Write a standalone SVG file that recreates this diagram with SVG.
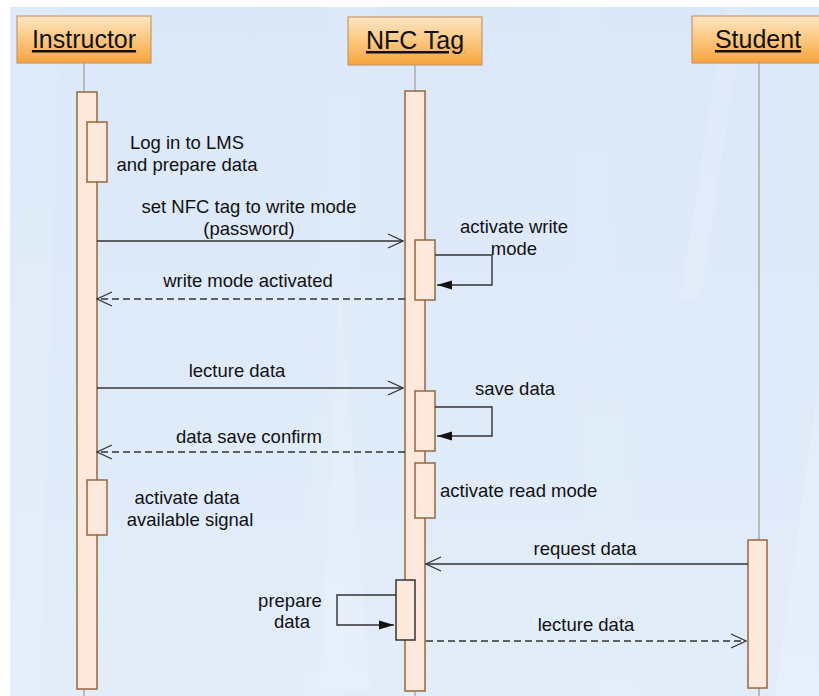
<svg xmlns="http://www.w3.org/2000/svg" width="819" height="696" viewBox="0 0 819 696">
  <defs>
    <linearGradient id="hdr" x1="0" y1="0" x2="0" y2="1">
      <stop offset="0" stop-color="#fde6c4"/>
      <stop offset="0.5" stop-color="#fbc77e"/>
      <stop offset="1" stop-color="#f7a43c"/>
    </linearGradient>
    <linearGradient id="bg" x1="0" y1="0" x2="0" y2="1">
      <stop offset="0" stop-color="#dbe8f9"/>
      <stop offset="1" stop-color="#e3edfa"/>
    </linearGradient>
    <marker id="open" markerUnits="userSpaceOnUse" markerWidth="20" markerHeight="20" viewBox="-17 -10 20 20" refX="0" refY="0" orient="auto">
      <path d="M-15,-7 L0,0 L-15,7" fill="none" stroke="#333" stroke-width="1.3"/>
    </marker>
    <marker id="filled" markerUnits="userSpaceOnUse" markerWidth="20" markerHeight="12" viewBox="-16 -6 18 12" refX="0" refY="0" orient="auto">
      <path d="M-15,-4.5 L0,0 L-15,4.5 Z" fill="#111" stroke="none"/>
    </marker>
  </defs>
  <style>
    .hdr { fill: url(#hdr); stroke: #c59a66; stroke-width: 1.2; }
    .hdrt { font-family: "Liberation Sans", Arial, sans-serif; font-size: 25px; fill: #111; text-anchor: middle; text-decoration: underline; }
    .life { stroke: #a39a92; stroke-width: 1.2; fill: none; }
    .act { fill: #fde9dc; stroke: #94673f; stroke-width: 1.5; }
    .act2 { fill: #fde9dc; stroke: #333; stroke-width: 1.5; }
    .lbl { font-family: "Liberation Sans", Arial, sans-serif; font-size: 18.5px; fill: #111; text-anchor: middle; }
    .msg { stroke: #333; stroke-width: 1.4; fill: none; }
    .dash { stroke-dasharray: 7 4; }
  </style>

  <rect x="0" y="0" width="819" height="696" fill="#ffffff"/>
  <rect x="10" y="7" width="809" height="689" fill="url(#bg)"/>
  <g id="background-streaks" fill="#ffffff">
    <polygon points="10,7 60,7 40,696 10,696" opacity="0.1"/>
    <polygon points="330,7 370,7 345,696 300,696" opacity="0.06"/>
    <polygon points="340,280 370,690 320,690" opacity="0.12"/>
    <polygon points="725,7 745,7 700,300 680,300" opacity="0.12"/>
    <polygon points="819,380 819,696 775,696" opacity="0.14"/>
    <polygon points="560,7 600,7 640,696 600,696" opacity="0.05"/>
  </g>

  <g id="instructor">
    <rect class="hdr" x="17" y="16" width="134" height="47"/>
    <text class="hdrt" x="84" y="48">Instructor</text>
    <line class="life" x1="84" y1="63" x2="84" y2="696"/>
    <rect class="act" x="77" y="92" width="20" height="597"/>
  </g>
  <g id="nfc-tag">
    <rect class="hdr" x="348" y="17" width="134" height="48"/>
    <text class="hdrt" x="415" y="49">NFC Tag</text>
    <line class="life" x1="415" y1="65" x2="415" y2="696"/>
    <rect class="act" x="405" y="91" width="20" height="600"/>
  </g>
  <g id="student">
    <rect class="hdr" x="692" y="16" width="134" height="47"/>
    <text class="hdrt" x="758" y="48">Student</text>
    <line class="life" x1="759" y1="63" x2="759" y2="696"/>
    <rect class="act" x="748" y="540" width="19" height="148"/>
  </g>

  <g id="login">
    <rect class="act" x="87" y="122" width="20" height="60"/>
    <text class="lbl" x="187" y="149">Log in to LMS</text>
    <text class="lbl" x="187" y="171">and prepare data</text>
  </g>
  <g id="activate-write">
    <rect class="act" x="415" y="240" width="20" height="60"/>
    <text class="lbl" x="514" y="233">activate write</text>
    <text class="lbl" x="514" y="255">mode</text>
  </g>
  <g id="save-data">
    <rect class="act" x="415" y="391" width="20" height="60"/>
    <text class="lbl" x="515" y="395">save data</text>
  </g>
  <g id="activate-read">
    <rect class="act" x="415" y="463" width="20" height="55"/>
    <text class="lbl" x="440" y="497" style="text-anchor:start">activate read mode</text>
  </g>
  <g id="activate-signal">
    <rect class="act" x="87" y="480" width="20" height="55"/>
    <text class="lbl" x="187" y="504">activate data</text>
    <text class="lbl" x="190" y="526">available signal</text>
  </g>
  <g id="prepare-data">
    <rect class="act2" x="396" y="580" width="19" height="60"/>
    <text class="lbl" x="290" y="607">prepare</text>
    <text class="lbl" x="292" y="628">data</text>
  </g>

  <g id="connectors">
    <line class="msg" x1="97" y1="241" x2="403" y2="241" marker-end="url(#open)"/>
    <text class="lbl" x="249" y="213">set NFC tag to write mode</text>
    <text class="lbl" x="249" y="235">(password)</text>

    <polyline class="msg" points="435,255 492,255 492,285 437,285" marker-end="url(#filled)"/>

    <line class="msg dash" x1="405" y1="299" x2="97" y2="299" marker-end="url(#open)"/>
    <text class="lbl" x="248" y="287">write mode activated</text>

    <line class="msg" x1="97" y1="388" x2="403" y2="388" marker-end="url(#open)"/>
    <text class="lbl" x="237" y="377">lecture data</text>

    <polyline class="msg" points="435,407 492,407 492,436 437,436" marker-end="url(#filled)"/>

    <line class="msg dash" x1="405" y1="452" x2="97" y2="452" marker-end="url(#open)"/>
    <text class="lbl" x="249" y="443">data save confirm</text>

    <line class="msg" x1="748" y1="564" x2="426" y2="564" marker-end="url(#open)"/>
    <text class="lbl" x="585" y="555">request data</text>

    <polyline class="msg" points="396,595 337,595 337,625 394,625" marker-end="url(#filled)"/>

    <line class="msg dash" x1="426" y1="641" x2="746" y2="641" marker-end="url(#open)"/>
    <text class="lbl" x="586" y="631">lecture data</text>
  </g>
</svg>
